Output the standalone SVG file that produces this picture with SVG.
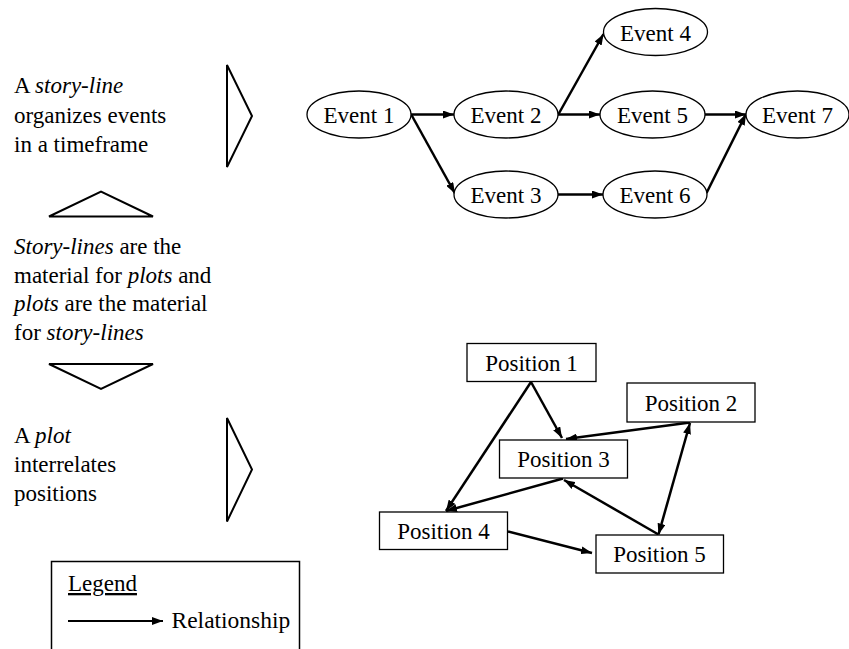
<svg xmlns="http://www.w3.org/2000/svg" width="849" height="649" viewBox="0 0 849 649" font-family="Liberation Serif" font-size="23">
<style>
.c{text-anchor:middle}
.node{fill:#fff;stroke:#000;stroke-width:1.3}
.tri{fill:none;stroke:#000;stroke-width:2}
.edge{stroke:#000;stroke-width:2.5;fill:none;marker-end:url(#ah)}
</style>
<defs>
<marker id="ah" viewBox="0 0 11 8" refX="11" refY="4" markerWidth="11" markerHeight="8" markerUnits="userSpaceOnUse" orient="auto-start-reverse">
<path d="M0,0 L11,4 L0,8 Z" fill="#000"/>
</marker>
</defs>
<rect width="849" height="649" fill="#fff"/>

<g id="left-text">
<text x="14" y="93">A <tspan font-style="italic">story-line</tspan></text>
<text x="14" y="122.5">organizes events</text>
<text x="14" y="152">in a timeframe</text>
<text x="14" y="254"><tspan font-style="italic">Story-lines</tspan> are the</text>
<text x="14" y="282.5">material for <tspan font-style="italic">plots</tspan> and</text>
<text x="14" y="311"><tspan font-style="italic">plots</tspan> are the material</text>
<text x="14" y="339.5">for <tspan font-style="italic">story-lines</tspan></text>
<text x="14" y="443">A <tspan font-style="italic">plot</tspan></text>
<text x="14" y="472">interrelates</text>
<text x="14" y="500.5">positions</text>
</g>

<g id="triangles">
<polygon class="tri" points="227,65 252,116 227,167"/>
<polygon class="tri" points="49,216.5 101,191.5 153,216.5"/>
<polygon class="tri" points="49,364 153,364 101,389"/>
<polygon class="tri" points="227,418 252,469.5 227,521.5"/>
</g>

<g id="connectors">
<line class="edge" x1="411" y1="114.5" x2="454" y2="114.5"/>
<line class="edge" x1="411.5" y1="115" x2="455" y2="193.5"/>
<line class="edge" x1="558" y1="115" x2="603.5" y2="34"/>
<line class="edge" x1="558" y1="114.5" x2="600" y2="114.5"/>
<line class="edge" x1="558" y1="194.5" x2="603" y2="194.5"/>
<line class="edge" x1="705" y1="114.5" x2="746" y2="114.5"/>
<line class="edge" x1="706.5" y1="193" x2="746" y2="114"/>
<line class="edge" x1="531" y1="382" x2="562" y2="438"/>
<line class="edge" x1="531" y1="382" x2="446" y2="511"/>
<line class="edge" x1="690" y1="422.5" x2="566" y2="439"/>
<line class="edge" x1="563" y1="478.5" x2="446" y2="511"/>
<line class="edge" x1="658.5" y1="534.5" x2="564" y2="480"/>
<line class="edge" x1="658.5" y1="534.5" x2="690" y2="423" style="marker-start:url(#ah)"/>
<line class="edge" x1="508" y1="531.5" x2="592" y2="553"/>
</g>

<g id="event1"><ellipse class="node" cx="359" cy="114.5" rx="52" ry="23.5"/><text class="c" x="359" y="123">Event 1</text></g>
<g id="event2"><ellipse class="node" cx="506" cy="114.5" rx="52" ry="23.5"/><text class="c" x="506" y="123">Event 2</text></g>
<g id="event3"><ellipse class="node" cx="506" cy="194.5" rx="52" ry="23.5"/><text class="c" x="506" y="203">Event 3</text></g>
<g id="event4"><ellipse class="node" cx="655.5" cy="32" rx="52" ry="23.5"/><text class="c" x="655.5" y="40.5">Event 4</text></g>
<g id="event5"><ellipse class="node" cx="652.5" cy="114.5" rx="52.5" ry="23.5"/><text class="c" x="652.5" y="123">Event 5</text></g>
<g id="event6"><ellipse class="node" cx="655" cy="194.5" rx="52" ry="23.5"/><text class="c" x="655" y="203">Event 6</text></g>
<g id="event7"><ellipse class="node" cx="797.5" cy="114.5" rx="51.5" ry="23.5"/><text class="c" x="797.5" y="123">Event 7</text></g>

<g id="position1"><rect class="node" x="467" y="343.5" width="129" height="38"/><text class="c" x="531.5" y="370.5">Position 1</text></g>
<g id="position2"><rect class="node" x="627" y="383" width="128" height="39"/><text class="c" x="691" y="410.5">Position 2</text></g>
<g id="position3"><rect class="node" x="499.5" y="440" width="128" height="38"/><text class="c" x="563.5" y="467">Position 3</text></g>
<g id="position4"><rect class="node" x="379.5" y="512" width="128" height="37.5"/><text class="c" x="443.5" y="539">Position 4</text></g>
<g id="position5"><rect class="node" x="596" y="535" width="127.5" height="38"/><text class="c" x="659.5" y="562">Position 5</text></g>

<g id="legend">
<rect x="51.5" y="561.5" width="248" height="100" fill="#fff" stroke="#000" stroke-width="1.5"/>
<text x="68" y="591" text-decoration="underline">Legend</text>
<line x1="68" y1="621" x2="163" y2="621" stroke="#000" stroke-width="2" marker-end="url(#ah)"/>
<text x="171.5" y="628" font-size="23.5">Relationship</text>
</g>
</svg>
